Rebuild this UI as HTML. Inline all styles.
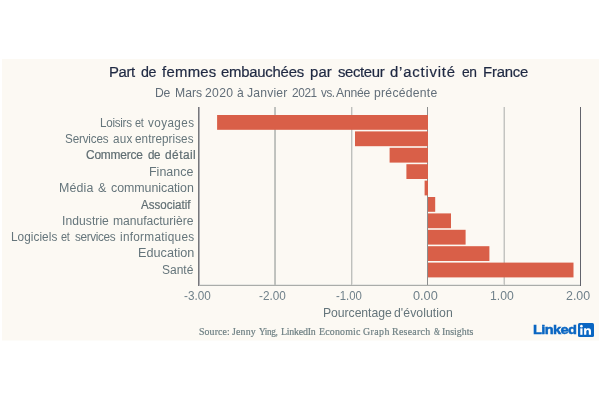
<!DOCTYPE html>
<html><head><meta charset="utf-8"><title>chart</title>
<style>
html,body{margin:0;padding:0;background:#fff;}
body{width:600px;height:400px;position:relative;overflow:hidden;font-family:"Liberation Sans",sans-serif;}
.t{position:absolute;white-space:nowrap;line-height:normal;transform-origin:0 0;}
.layer{position:absolute;left:0;top:0;width:600px;height:400px;will-change:transform;}
.ch{position:absolute;left:0;top:0;}
.in{position:absolute;left:578.3px;top:322.8px;width:15.3px;height:14.2px;background:#0a66c2;border-radius:1.5px;}
</style></head><body>

<svg class="ch" width="600" height="400" viewBox="0 0 600 400"><rect x="2" y="59" width="597" height="281.5" fill="#fcf9f3"/><rect x="198" y="284" width="383" height="1" fill="#e8e8e4"/><rect x="198" y="285" width="383" height="1" fill="#aaaca9"/><rect x="198" y="107" width="1" height="179" fill="#77777b"/><rect x="199" y="107" width="1" height="179" fill="#b0b0b4"/><rect x="274" y="107" width="1" height="178" fill="#c2c4c0"/><rect x="275" y="107" width="1" height="178" fill="#bfc1bd"/><rect x="351" y="107" width="1" height="178" fill="#bfc0bc"/><rect x="352" y="107" width="1" height="178" fill="#e2e2de"/><rect x="427" y="107" width="1" height="178" fill="#8c8e8e"/><rect x="503" y="107" width="1" height="178" fill="#e0e0dc"/><rect x="504" y="107" width="1" height="178" fill="#c4c4c0"/><rect x="580" y="107" width="1" height="179" fill="#62646c"/><rect x="217.10" y="115.00" width="210.90" height="14.8" fill="#d95f48"/><rect x="355.00" y="131.40" width="73.00" height="14.8" fill="#d95f48"/><rect x="389.60" y="147.80" width="38.40" height="14.8" fill="#d95f48"/><rect x="406.40" y="164.20" width="21.60" height="14.8" fill="#d95f48"/><rect x="424.60" y="180.60" width="3.40" height="14.8" fill="#d95f48"/><rect x="428.00" y="197.00" width="7.20" height="14.8" fill="#d95f48"/><rect x="428.00" y="213.40" width="23.00" height="14.8" fill="#d95f48"/><rect x="428.00" y="229.80" width="37.60" height="14.8" fill="#d95f48"/><rect x="428.00" y="246.20" width="61.40" height="14.8" fill="#d95f48"/><rect x="428.00" y="262.60" width="145.50" height="14.8" fill="#d95f48"/></svg>
<div class="layer">
<span class="t" style="left:108.89px;top:62.66px;font-family:'Liberation Sans', sans-serif;font-size:15.4px;font-weight:400;color:#1f2942;-webkit-text-stroke:0.22px #1f2942;letter-spacing:-0.400px;transform:scaleX(0.9654)">Part</span><span class="t" style="left:140.76px;top:62.66px;font-family:'Liberation Sans', sans-serif;font-size:15.4px;font-weight:400;color:#1f2942;-webkit-text-stroke:0.22px #1f2942;letter-spacing:-0.400px;transform:scaleX(0.9274)">de</span><span class="t" style="left:162.40px;top:62.66px;font-family:'Liberation Sans', sans-serif;font-size:15.4px;font-weight:400;color:#1f2942;-webkit-text-stroke:0.22px #1f2942;letter-spacing:0.286px;transform:scaleX(0.9668)">femmes</span><span class="t" style="left:221.48px;top:62.66px;font-family:'Liberation Sans', sans-serif;font-size:15.4px;font-weight:400;color:#1f2942;-webkit-text-stroke:0.22px #1f2942;letter-spacing:-0.236px;transform:scaleX(0.9668)">embauchées</span><span class="t" style="left:310.40px;top:62.66px;font-family:'Liberation Sans', sans-serif;font-size:15.4px;font-weight:400;color:#1f2942;-webkit-text-stroke:0.22px #1f2942;letter-spacing:0.112px;transform:scaleX(0.9668)">par</span><span class="t" style="left:338.45px;top:62.66px;font-family:'Liberation Sans', sans-serif;font-size:15.4px;font-weight:400;color:#1f2942;-webkit-text-stroke:0.22px #1f2942;letter-spacing:-0.368px;transform:scaleX(0.9668)">secteur</span><span class="t" style="left:390.48px;top:62.66px;font-family:'Liberation Sans', sans-serif;font-size:15.4px;font-weight:400;color:#1f2942;-webkit-text-stroke:0.22px #1f2942;letter-spacing:0.820px;transform:scaleX(0.9668)">d’activité</span><span class="t" style="left:462.02px;top:62.66px;font-family:'Liberation Sans', sans-serif;font-size:15.4px;font-weight:400;color:#1f2942;-webkit-text-stroke:0.22px #1f2942;letter-spacing:-0.400px;transform:scaleX(0.8975)">en</span><span class="t" style="left:482.64px;top:62.66px;font-family:'Liberation Sans', sans-serif;font-size:15.4px;font-weight:400;color:#1f2942;-webkit-text-stroke:0.22px #1f2942;letter-spacing:-0.192px;transform:scaleX(0.9668)">France</span><span class="t" style="left:155.25px;top:85.56px;font-family:'Liberation Sans', sans-serif;font-size:12.2px;font-weight:400;color:#626e79;letter-spacing:-0.288px;transform:scaleX(0.9989)">De</span><span class="t" style="left:175.25px;top:85.56px;font-family:'Liberation Sans', sans-serif;font-size:12.2px;font-weight:400;color:#626e79;letter-spacing:0.036px;transform:scaleX(0.9989)">Mars</span><span class="t" style="left:204.89px;top:85.56px;font-family:'Liberation Sans', sans-serif;font-size:12.2px;font-weight:400;color:#626e79;letter-spacing:0.327px;transform:scaleX(0.9989)">2020</span><span class="t" style="left:236.98px;top:85.56px;font-family:'Liberation Sans', sans-serif;font-size:12.2px;font-weight:400;color:#626e79;transform:scaleX(0.9973)">à</span><span class="t" style="left:246.81px;top:85.56px;font-family:'Liberation Sans', sans-serif;font-size:12.2px;font-weight:400;color:#626e79;letter-spacing:0.185px;transform:scaleX(0.9989)">Janvier</span><span class="t" style="left:292.40px;top:85.56px;font-family:'Liberation Sans', sans-serif;font-size:12.2px;font-weight:400;color:#626e79;letter-spacing:-0.400px;transform:scaleX(0.9704)">2021</span><span class="t" style="left:320.71px;top:85.56px;font-family:'Liberation Sans', sans-serif;font-size:12.2px;font-weight:400;color:#626e79;letter-spacing:-0.400px;transform:scaleX(0.9535)">vs.</span><span class="t" style="left:336.23px;top:85.56px;font-family:'Liberation Sans', sans-serif;font-size:12.2px;font-weight:400;color:#626e79;letter-spacing:-0.231px;transform:scaleX(0.9989)">Année</span><span class="t" style="left:374.21px;top:85.56px;font-family:'Liberation Sans', sans-serif;font-size:12.2px;font-weight:400;color:#626e79;letter-spacing:0.261px;transform:scaleX(0.9989)">précédente</span><span class="t" style="left:100.34px;top:115.94px;font-family:'Liberation Sans', sans-serif;font-size:12.0px;font-weight:400;color:#65757b;letter-spacing:-0.286px;transform:scaleX(0.9702)">Loisirs</span><span class="t" style="left:135.14px;top:115.94px;font-family:'Liberation Sans', sans-serif;font-size:12.0px;font-weight:400;color:#65757b;letter-spacing:-0.400px;transform:scaleX(0.9101)">et</span><span class="t" style="left:147.76px;top:115.94px;font-family:'Liberation Sans', sans-serif;font-size:12.0px;font-weight:400;color:#65757b;letter-spacing:0.446px;transform:scaleX(0.9702)">voyages</span><span class="t" style="left:64.57px;top:132.24px;font-family:'Liberation Sans', sans-serif;font-size:12.0px;font-weight:400;color:#65757b;letter-spacing:-0.172px;transform:scaleX(0.9741)">Services</span><span class="t" style="left:112.70px;top:132.24px;font-family:'Liberation Sans', sans-serif;font-size:12.0px;font-weight:400;color:#65757b;letter-spacing:0.244px;transform:scaleX(0.9741)">aux</span><span class="t" style="left:135.30px;top:132.24px;font-family:'Liberation Sans', sans-serif;font-size:12.0px;font-weight:400;color:#65757b;letter-spacing:0.071px;transform:scaleX(0.9741)">entreprises</span><span class="t" style="left:86.49px;top:148.14px;font-family:'Liberation Sans', sans-serif;font-size:12.0px;font-weight:400;color:#5f6d72;-webkit-text-stroke:0.2px #5f6d72;letter-spacing:-0.210px;transform:scaleX(0.9936)">Commerce</span><span class="t" style="left:147.51px;top:148.14px;font-family:'Liberation Sans', sans-serif;font-size:12.0px;font-weight:400;color:#5f6d72;-webkit-text-stroke:0.2px #5f6d72;letter-spacing:-0.400px;transform:scaleX(0.9655)">de</span><span class="t" style="left:165.20px;top:148.14px;font-family:'Liberation Sans', sans-serif;font-size:12.0px;font-weight:400;color:#5f6d72;-webkit-text-stroke:0.2px #5f6d72;letter-spacing:0.442px;transform:scaleX(0.9936)">détail</span><span class="t" style="left:149.48px;top:164.84px;font-family:'Liberation Sans', sans-serif;font-size:12.0px;font-weight:400;color:#65757b;transform:scaleX(1.0383)">Finance</span><span class="t" style="left:59.28px;top:181.14px;font-family:'Liberation Sans', sans-serif;font-size:12.0px;font-weight:400;color:#65757b;letter-spacing:0.146px;transform:scaleX(1.0345)">Média</span><span class="t" style="left:97.86px;top:181.14px;font-family:'Liberation Sans', sans-serif;font-size:12.0px;font-weight:400;color:#65757b;transform:scaleX(1.0413)">&amp;</span><span class="t" style="left:111.27px;top:181.14px;font-family:'Liberation Sans', sans-serif;font-size:12.0px;font-weight:400;color:#65757b;letter-spacing:-0.053px;transform:scaleX(1.0345)">communication</span><span class="t" style="left:141.08px;top:197.94px;font-family:'Liberation Sans', sans-serif;font-size:12.0px;font-weight:400;color:#5f6d72;-webkit-text-stroke:0.2px #5f6d72;transform:scaleX(0.9621)">Associatif</span><span class="t" style="left:62.28px;top:213.74px;font-family:'Liberation Sans', sans-serif;font-size:12.0px;font-weight:400;color:#65757b;letter-spacing:0.047px;transform:scaleX(1.0098)">Industrie</span><span class="t" style="left:113.40px;top:213.74px;font-family:'Liberation Sans', sans-serif;font-size:12.0px;font-weight:400;color:#65757b;letter-spacing:-0.029px;transform:scaleX(1.0098)">manufacturière</span><span class="t" style="left:11.13px;top:230.04px;font-family:'Liberation Sans', sans-serif;font-size:12.0px;font-weight:400;color:#65757b;letter-spacing:0.049px;transform:scaleX(0.9832)">Logiciels</span><span class="t" style="left:61.44px;top:230.04px;font-family:'Liberation Sans', sans-serif;font-size:12.0px;font-weight:400;color:#65757b;letter-spacing:-0.400px;transform:scaleX(0.9101)">et</span><span class="t" style="left:74.57px;top:230.04px;font-family:'Liberation Sans', sans-serif;font-size:12.0px;font-weight:400;color:#65757b;letter-spacing:-0.380px;transform:scaleX(0.9832)">services</span><span class="t" style="left:119.61px;top:230.04px;font-family:'Liberation Sans', sans-serif;font-size:12.0px;font-weight:400;color:#65757b;letter-spacing:0.279px;transform:scaleX(0.9832)">informatiques</span><span class="t" style="left:137.76px;top:246.34px;font-family:'Liberation Sans', sans-serif;font-size:12.0px;font-weight:400;color:#65757b;transform:scaleX(1.0560)">Education</span><span class="t" style="left:162.45px;top:262.64px;font-family:'Liberation Sans', sans-serif;font-size:12.0px;font-weight:400;color:#65757b;transform:scaleX(1.0006)">Santé</span><span class="t" style="left:183.73px;top:288.87px;font-family:'Liberation Sans', sans-serif;font-size:12.3px;font-weight:400;color:#70818a;transform:scaleX(0.9534)">-3.00</span><span class="t" style="left:258.98px;top:288.87px;font-family:'Liberation Sans', sans-serif;font-size:12.3px;font-weight:400;color:#70818a;transform:scaleX(0.9553)">-2.00</span><span class="t" style="left:336.49px;top:288.87px;font-family:'Liberation Sans', sans-serif;font-size:12.3px;font-weight:400;color:#70818a;transform:scaleX(0.9256)">-1.00</span><span class="t" style="left:412.75px;top:288.87px;font-family:'Liberation Sans', sans-serif;font-size:12.3px;font-weight:400;color:#70818a;transform:scaleX(1.0336)">0.00</span><span class="t" style="left:490.07px;top:288.87px;font-family:'Liberation Sans', sans-serif;font-size:12.3px;font-weight:400;color:#70818a;transform:scaleX(0.9901)">1.00</span><span class="t" style="left:566.28px;top:288.87px;font-family:'Liberation Sans', sans-serif;font-size:12.3px;font-weight:400;color:#70818a;transform:scaleX(1.0070)">2.00</span><span class="t" style="left:322.75px;top:306.26px;font-family:'Liberation Sans', sans-serif;font-size:12.2px;font-weight:400;color:#65757b;letter-spacing:-0.064px;transform:scaleX(1.0037)">Pourcentage</span><span class="t" style="left:394.49px;top:306.26px;font-family:'Liberation Sans', sans-serif;font-size:12.2px;font-weight:400;color:#65757b;letter-spacing:0.064px;transform:scaleX(1.0037)">d&#x27;évolution</span><span class="t" style="left:198.69px;top:325.95px;font-family:'Liberation Serif', serif;font-size:9.6px;font-weight:400;color:#6f8084;-webkit-text-stroke:0.2px #6f8084;letter-spacing:0.088px;transform:scaleX(1.0306)">Source:</span><span class="t" style="left:231.89px;top:325.95px;font-family:'Liberation Serif', serif;font-size:9.6px;font-weight:400;color:#6f8084;-webkit-text-stroke:0.2px #6f8084;letter-spacing:0.174px;transform:scaleX(1.0306)">Jenny</span><span class="t" style="left:258.75px;top:325.95px;font-family:'Liberation Serif', serif;font-size:9.6px;font-weight:400;color:#6f8084;-webkit-text-stroke:0.2px #6f8084;letter-spacing:-0.400px;transform:scaleX(0.9618)">Ying,</span><span class="t" style="left:281.06px;top:325.95px;font-family:'Liberation Serif', serif;font-size:9.6px;font-weight:400;color:#6f8084;-webkit-text-stroke:0.2px #6f8084;letter-spacing:-0.212px;transform:scaleX(1.0306)">LinkedIn</span><span class="t" style="left:319.06px;top:325.95px;font-family:'Liberation Serif', serif;font-size:9.6px;font-weight:400;color:#6f8084;-webkit-text-stroke:0.2px #6f8084;letter-spacing:0.184px;transform:scaleX(1.0306)">Economic</span><span class="t" style="left:363.49px;top:325.95px;font-family:'Liberation Serif', serif;font-size:9.6px;font-weight:400;color:#6f8084;-webkit-text-stroke:0.2px #6f8084;letter-spacing:0.391px;transform:scaleX(1.0306)">Graph</span><span class="t" style="left:392.31px;top:325.95px;font-family:'Liberation Serif', serif;font-size:9.6px;font-weight:400;color:#6f8084;-webkit-text-stroke:0.2px #6f8084;letter-spacing:0.272px;transform:scaleX(1.0306)">Research</span><span class="t" style="left:433.56px;top:325.95px;font-family:'Liberation Serif', serif;font-size:9.6px;font-weight:400;color:#6f8084;-webkit-text-stroke:0.2px #6f8084;transform:scaleX(0.8011)">&amp;</span><span class="t" style="left:442.24px;top:325.95px;font-family:'Liberation Serif', serif;font-size:9.6px;font-weight:400;color:#6f8084;-webkit-text-stroke:0.2px #6f8084;letter-spacing:-0.009px;transform:scaleX(1.0306)">Insights</span><span class="t" style="left:533.07px;top:322.09px;font-family:'Liberation Sans', sans-serif;font-size:13.6px;font-weight:700;color:#0a66c2;-webkit-text-stroke:0.5px #0a66c2;letter-spacing:-0.600px;transform:scaleX(1.0763)">Linked</span>
</div>
<div class="in"><svg width="15.3" height="13.9" viewBox="0 0 15.3 13.5" preserveAspectRatio="none" style="position:absolute;left:0;top:0"><g fill="#fff"><rect x="2.3" y="5.2" width="2.2" height="6.3"/><circle cx="3.4" cy="3.1" r="1.3"/><path d="M6.1 5.2h2.1v0.9c0.4-0.7 1.2-1.1 2.2-1.1 1.9 0 2.6 1.1 2.6 3v3.5h-2.2v-3.1c0-0.9-0.3-1.5-1.1-1.5-0.9 0-1.4 0.6-1.4 1.5v3.1h-2.2z"/></g></svg></div>
</body></html>
